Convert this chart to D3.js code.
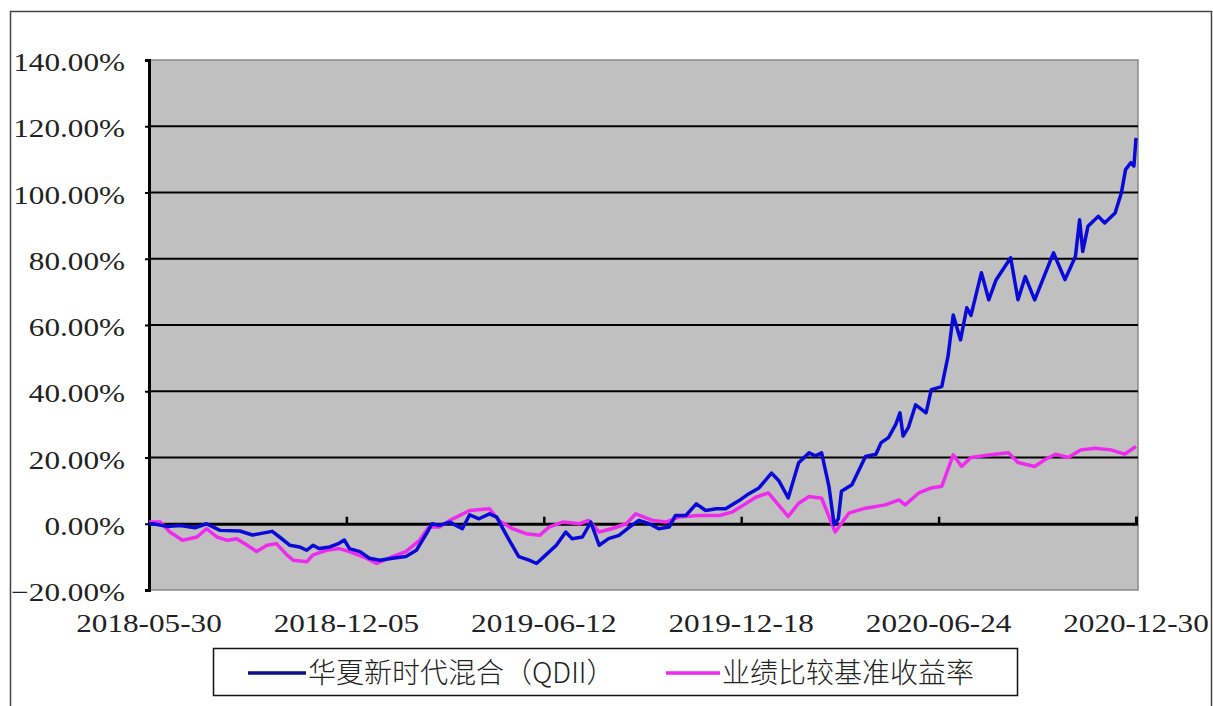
<!DOCTYPE html>
<html>
<head>
<meta charset="utf-8">
<script src="https://cdn.jsdelivr.net/npm/d3@7"></script>
<style>
  body { margin: 0; background: #fff; }
  svg { display: block; }
</style>
</head>
<body>
<div id="chart"></div>
<script>
"use strict";

// series names
const seriesNames = ["华夏新时代混合（QDII）", "业绩比较基准收益率"];

// y ticks (percent)
const yTicks = [-20, 0, 20, 40, 60, 80, 100, 120, 140];

// x tick labels
const tickDates = ["2018-05-30", "2018-12-05", "2019-06-12", "2019-12-18", "2020-06-24", "2020-12-30"];

// fund (blue)
const fundDates = [
  "2018-05-30","2018-06-03","2018-06-16","2018-06-29","2018-07-13","2018-07-24","2018-08-06","2018-08-25",
  "2018-09-06","2018-09-25","2018-10-02","2018-10-12","2018-10-21","2018-10-28","2018-11-03","2018-11-09",
  "2018-11-19","2018-11-28","2018-12-03","2018-12-08","2018-12-18","2018-12-27","2019-01-06","2019-01-18",
  "2019-01-31","2019-02-10","2019-02-20","2019-02-25","2019-03-04","2019-03-14","2019-03-26","2019-04-02",
  "2019-04-11","2019-04-21","2019-04-28","2019-05-03","2019-05-10","2019-05-19","2019-05-29","2019-06-05",
  "2019-06-14","2019-06-24","2019-07-03","2019-07-09","2019-07-19","2019-07-27","2019-08-04","2019-08-13",
  "2019-08-23","2019-09-02","2019-09-11","2019-09-21","2019-09-30","2019-10-10","2019-10-16","2019-10-26",
  "2019-11-05","2019-11-14","2019-11-24","2019-12-03","2019-12-16","2019-12-25","2020-01-04","2020-01-16",
  "2020-01-23","2020-02-01","2020-02-11","2020-02-21","2020-02-27","2020-03-04","2020-03-11","2020-03-16",
  "2020-03-20","2020-03-23","2020-04-02","2020-04-15","2020-04-25","2020-04-30","2020-05-07","2020-05-14",
  "2020-05-18","2020-05-21","2020-05-26","2020-06-02","2020-06-12","2020-06-17","2020-06-27","2020-07-03",
  "2020-07-08","2020-07-15","2020-07-21","2020-07-25","2020-08-04","2020-08-11","2020-08-18","2020-09-01",
  "2020-09-08","2020-09-15","2020-09-24","2020-10-12","2020-10-23","2020-11-02","2020-11-06","2020-11-09",
  "2020-11-14","2020-11-24","2020-11-30","2020-12-10","2020-12-16","2020-12-20","2020-12-25","2020-12-28",
  "2020-12-30"
];
const fundValues = [
  0, 0, -0.8, -0.5, -1.2, 0, -2, -2.2,
  -3.4, -2.3, -4, -6.5, -7, -8, -6.5, -7.5,
  -7, -5.9, -4.9, -7.5, -8.4, -10.4, -11, -10.4,
  -9.9, -8, -2.8, 0, -0.5, 0.5, -1.5, 2.7,
  1.5, 3, 2, -1, -5, -9.9, -11, -12,
  -9.4, -6.5, -2.5, -4.5, -4, 0.5, -6.5, -4.5,
  -3.5, -1, 1, 0, -1.5, -1, 2.5, 2.5,
  6, 4, 4.5, 4.5, 7, 9, 10.8, 15.3,
  13, 7.8, 18.4, 21.4, 20.5, 21.4, 11.3, -0.3,
  1.5, 9.8, 11.8, 20.3, 21, 24.5, 26, 30,
  33.5, 26.5, 29, 35.9, 33.5, 40.5, 41.4, 50.5,
  63, 55.5, 65.2, 62.9, 75.8, 67.6, 73.6, 80.3,
  67.6, 74.6, 67.6, 81.8, 73.7, 80.7, 91.8, 82.2,
  89.8, 92.8, 90.8, 93.8, 99.9, 106.9, 109, 108,
  116.5
];

// benchmark (magenta)
const benchDates = [
  "2018-05-30","2018-06-03","2018-06-10","2018-06-19","2018-07-01","2018-07-15","2018-07-24","2018-08-03",
  "2018-08-13","2018-08-22","2018-09-01","2018-09-10","2018-09-20","2018-09-29","2018-10-09","2018-10-15",
  "2018-10-28","2018-11-03","2018-11-16","2018-11-28","2018-12-08","2018-12-24","2019-01-03","2019-01-18",
  "2019-01-31","2019-02-13","2019-02-22","2019-03-04","2019-03-14","2019-04-02","2019-04-21","2019-04-30",
  "2019-05-13","2019-05-26","2019-06-08","2019-06-17","2019-06-30","2019-07-16","2019-07-25","2019-08-04",
  "2019-08-16","2019-08-30","2019-09-08","2019-09-24","2019-10-07","2019-10-19","2019-11-07","2019-11-27",
  "2019-12-09","2019-12-22","2020-01-01","2020-01-13","2020-02-01","2020-02-11","2020-02-21","2020-03-04",
  "2020-03-17","2020-03-30","2020-04-15","2020-05-04","2020-05-17","2020-05-23","2020-06-05","2020-06-17",
  "2020-06-27","2020-07-08","2020-07-16","2020-07-25","2020-08-08","2020-08-17","2020-08-30","2020-09-08",
  "2020-09-24","2020-10-04","2020-10-14","2020-10-26","2020-11-07","2020-11-21","2020-12-06","2020-12-19",
  "2020-12-30"
];
const benchValues = [
  0.5, 0.5, 0.5, -2.5, -5, -4, -1.5, -4,
  -5, -4.5, -6.5, -8.4, -6.5, -6, -9.4, -11,
  -11.5, -9.4, -8, -7.5, -8.4, -10.4, -12, -9.9,
  -8.4, -5, -1, -1, 1, 4, 4.5, 1,
  -1.5, -3, -3.5, -1, 0.5, 0, 1, -2.5,
  -1.5, 0, 3, 1, 0.5, 2, 2.5, 2.5,
  3.5, 6, 8, 9.3, 2.2, 6.2, 8.2, 7.7,
  -2.5, 3.2, 4.7, 5.7, 7.2, 5.7, 9.3, 10.8,
  11.3, 20.8, 17.3, 20, 20.6, 21, 21.4, 18.5,
  17.3, 19.4, 21, 20, 22.3, 22.8, 22.3, 21,
  23.3
];

const seriesColors = ["#0a0ad8", "#ee2aee"];

const W = 1213, H = 706;
const plot = { left: 149, right: 1138, top: 60, bottom: 590 };
const parse = d3.timeParse("%Y-%m-%d");

const svg = d3.select("#chart").append("svg")
    .attr("width", W)
    .attr("height", H);

// outer frame
svg.append("rect")
    .attr("x", 10.5).attr("y", 11.5)
    .attr("width", 1201).attr("height", 720)
    .attr("fill", "#fff")
    .attr("stroke", "#444")
    .attr("stroke-width", 1.5);

const x = d3.scaleTime()
    .domain([parse(tickDates[0]), parse(tickDates[tickDates.length - 1])])
    .range([plot.left, 1136]);

const y = d3.scaleLinear()
    .domain([-20, 140])
    .range([plot.bottom, plot.top]);

// plot background
svg.append("rect")
    .attr("x", plot.left).attr("y", plot.top)
    .attr("width", plot.right - plot.left)
    .attr("height", plot.bottom - plot.top)
    .attr("fill", "#c0c0c0")
    .attr("stroke", "#8a8a8a")
    .attr("stroke-width", 1.5);

// gridlines
svg.append("g")
  .selectAll("line")
  .data(yTicks.filter(t => t > 0 && t < 140))
  .join("line")
    .attr("x1", plot.left).attr("x2", plot.right)
    .attr("y1", d => y(d)).attr("y2", d => y(d))
    .attr("stroke", "#000")
    .attr("stroke-width", 2);

// y axis
const yAxis = svg.append("g")
    .attr("transform", `translate(${plot.left},0)`)
    .call(d3.axisLeft(y).tickValues(yTicks).tickSize(4).tickFormat(""));
yAxis.select(".domain").attr("stroke", "#000").attr("stroke-width", 3);
yAxis.selectAll(".tick line").attr("stroke", "#000").attr("stroke-width", 2);

// y labels
svg.append("g")
  .selectAll("text")
  .data(yTicks)
  .join("text")
    .attr("transform", d => `translate(125,${y(d) + 11}) scale(1.2,1)`)
    .attr("text-anchor", "end")
    .attr("font-family", "'Liberation Serif', 'Times New Roman', serif")
    .attr("font-size", 26)
    .attr("fill", "#222")
    .text(d => d3.format(".2f")(d) + "%");

// x axis on the zero line
const xAxis = svg.append("g")
    .attr("transform", `translate(0,${y(0)})`)
    .call(d3.axisTop(x).tickValues(tickDates.map(parse)).tickSize(7).tickFormat(""));
xAxis.select(".domain").attr("stroke", "#000").attr("stroke-width", 3);
xAxis.selectAll(".tick line").attr("stroke", "#000").attr("stroke-width", 2.5);

// x labels
svg.append("g")
  .selectAll("text")
  .data(tickDates)
  .join("text")
    .attr("transform", d => `translate(${x(parse(d))},632) scale(1.2,1)`)
    .attr("text-anchor", "middle")
    .attr("font-family", "'Liberation Serif', 'Times New Roman', serif")
    .attr("font-size", 26)
    .attr("fill", "#222")
    .text(d => d);

// lines
const line = d3.line()
    .x(d => x(d[0]))
    .y(d => y(d[1]));

const fund = fundDates.map((d, i) => [parse(d), fundValues[i]]);
const bench = benchDates.map((d, i) => [parse(d), benchValues[i]]);

svg.append("path")
    .datum(bench)
    .attr("fill", "none")
    .attr("stroke", seriesColors[1])
    .attr("stroke-width", 3.5)
    .attr("stroke-linejoin", "round")
    .attr("d", line);

svg.append("path")
    .datum(fund)
    .attr("fill", "none")
    .attr("stroke", seriesColors[0])
    .attr("stroke-width", 3.5)
    .attr("stroke-linejoin", "round")
    .attr("d", line);

// legend
const legend = svg.append("g");
legend.append("rect")
    .attr("x", 213.5).attr("y", 648.5)
    .attr("width", 804).attr("height", 47)
    .attr("fill", "#fff")
    .attr("stroke", "#111")
    .attr("stroke-width", 1.5);

const legendItems = [
  { x1: 248, x2: 306, tx: 308 },
  { x1: 666, x2: 720, tx: 722 }
];
legendItems.forEach((it, i) => {
  legend.append("line")
      .attr("x1", it.x1).attr("x2", it.x2)
      .attr("y1", 673).attr("y2", 673)
      .attr("stroke", i === 0 ? "#101088" : seriesColors[i])
      .attr("stroke-width", 3.5);
  legend.append("text")
      .attr("x", it.tx).attr("y", 683)
      .attr("font-family", "'Noto Sans CJK SC', sans-serif")
      .attr("font-weight", 300)
      .attr("font-size", 28)
      .attr("fill", "#222")
      .text(seriesNames[i]);
});
</script>
</body>
</html>
